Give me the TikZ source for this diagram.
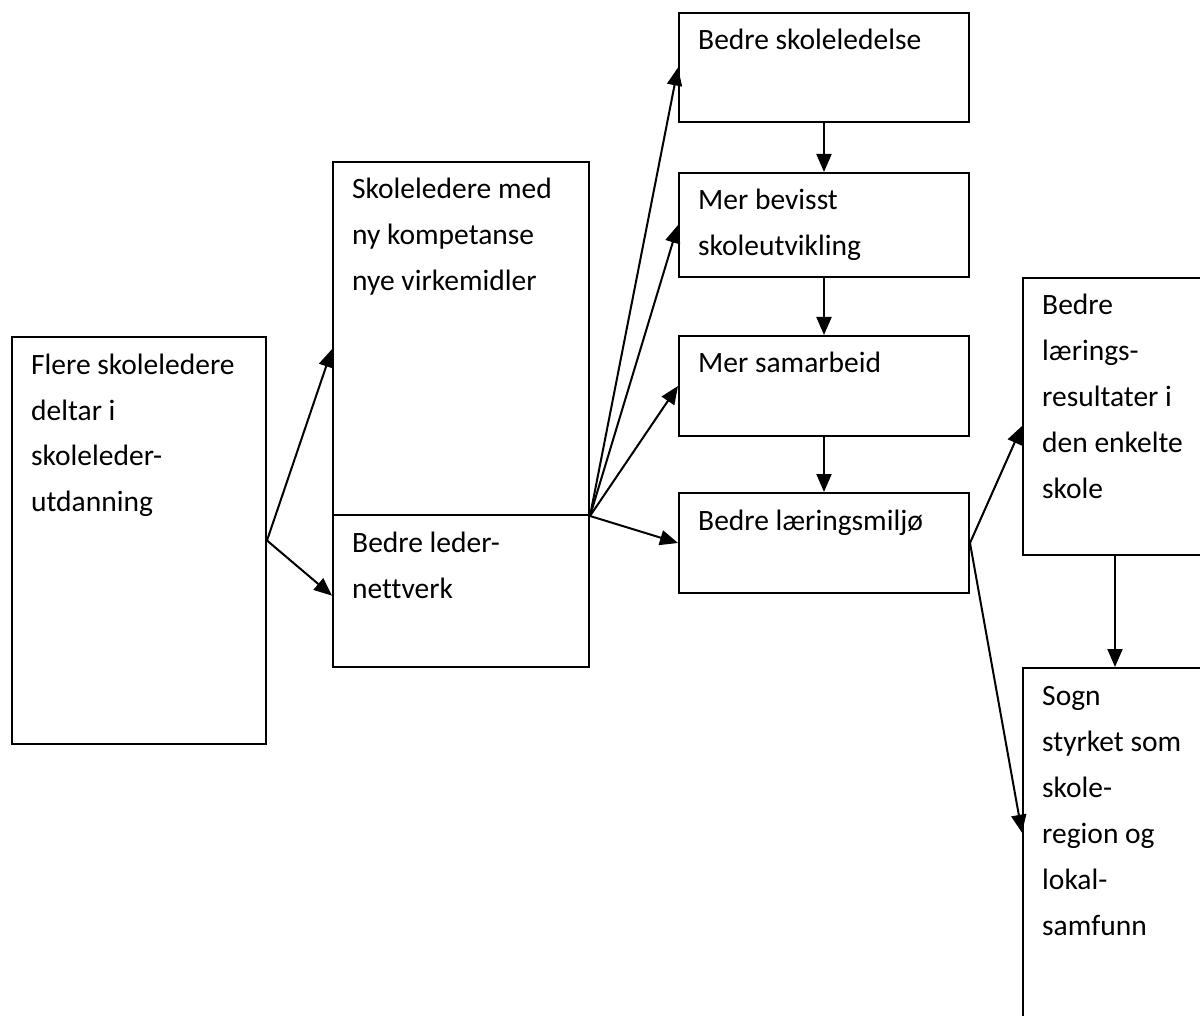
\documentclass[tikz,border=0pt]{standalone}
\usepackage{fontspec}
\setmainfont[Ligatures=NoCommon]{Carlito}
\usetikzlibrary{arrows.meta,calc}
\tikzset{
  x=1pt, y=-1pt,
  box/.style={draw, line width=2pt, rectangle, inner sep=0pt, anchor=north west},
  txt/.style={anchor=base west, inner sep=0pt, font=\fontsize{29.5}{46}\selectfont},
  arr/.style={line width=2pt, -{Triangle[length=18pt,width=15pt]}}
}
\newcommand{\lines}[1]{\begin{tabular}[t]{@{}l@{}}#1\end{tabular}}
\begin{document}
\begin{tikzpicture}
\useasboundingbox (0,0) rectangle (1200,1016);
\clip (0,0) rectangle (1200,1016);
% boxes
\node[box, minimum width=254pt, minimum height=407pt] (b1) at (11,336) {};
\node[box, minimum width=256pt, minimum height=353pt] (b2a) at (332,161) {};
\node[box, minimum width=256pt, minimum height=152pt] (b2b) at (332,514) {};
\node[box, minimum width=290pt, minimum height=109pt] (b3) at (678,12) {};
\node[box, minimum width=290pt, minimum height=104pt] (b4) at (678,172) {};
\node[box, minimum width=290pt, minimum height=100pt] (b5) at (678,335) {};
\node[box, minimum width=290pt, minimum height=100pt] (b6) at (678,492) {};
\node[box, minimum width=184pt, minimum height=277pt] (b7) at (1022,277) {};
\node[box, minimum width=184pt, minimum height=433pt] (b8) at (1022,667) {};
% texts
\node[txt] (t1) at ($(b1.north west)+(20,38)$) {\lines{Flere skoleledere\\deltar i\\skoleleder-\\utdanning}};
\node[txt] (t2a) at ($(b2a.north west)+(20,38)$) {\lines{Skoleledere med\\ny kompetanse\\nye virkemidler}};
\node[txt] (t2b) at ($(b2b.north west)+(20,38)$) {\lines{Bedre leder-\\nettverk}};
\node[txt] (t3) at ($(b3.north west)+(20,38)$) {\lines{Bedre skoleledelse}};
\node[txt] (t4) at ($(b4.north west)+(20,38)$) {\lines{Mer bevisst\\skoleutvikling}};
\node[txt] (t5) at ($(b5.north west)+(20,38)$) {\lines{Mer samarbeid}};
\node[txt] (t6) at ($(b6.north west)+(20,38)$) {\lines{Bedre læringsmiljø}};
\node[txt] (t7) at ($(b7.north west)+(20,38)$) {\lines{Bedre\\lærings-\\resultater i\\den enkelte\\skole}};
\node[txt] (t8) at ($(b8.north west)+(20,38)$) {\lines{Sogn\\styrket som\\skole-\\region og\\lokal-\\samfunn}};
% connector endpoints
\coordinate (e2a) at ($(b2a.north west)!0.53!(b2a.south west)$);
\coordinate (e2b) at ($(b2b.north west)!0.53!(b2b.south west)$);
\coordinate (e7) at ($(b7.north west)!0.534!(b7.south west)$);
\coordinate (e8) at ($(b8.north west)!0.381!(b8.south west)$);
% connectors
\draw[arr] (b1.east) -- (e2a);
\draw[arr] (b1.east) -- (e2b);
\draw[arr] (b2a.south east) -- (b3.west);
\draw[arr] (b2a.south east) -- (b4.west);
\draw[arr] (b2a.south east) -- (b5.west);
\draw[arr] (b2a.south east) -- (b6.west);
\draw[arr] (b3.south) -- (b4.north);
\draw[arr] (b4.south) -- (b5.north);
\draw[arr] (b5.south) -- (b6.north);
\draw[arr] (b6.east) -- (e7);
\draw[arr] (b6.east) -- (e8);
\draw[arr] (b7.south) -- (b8.north);
\end{tikzpicture}
\end{document}
